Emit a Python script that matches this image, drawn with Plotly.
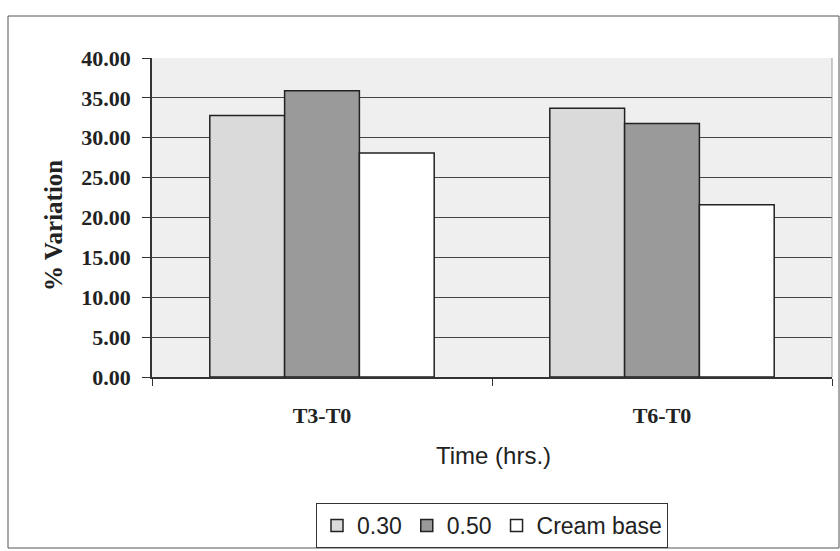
import plotly.graph_objects as go

# Percent variation of each formulation between sampling times
categories = ["T3-T0", "T6-T0"]
series_names = ["0.30", "0.50", "Cream base"]
values_030 = [32.8, 33.7]
values_050 = [35.9, 31.8]
values_cream = [28.1, 21.6]
y_ticks = [0, 5, 10, 15, 20, 25, 30, 35, 40]
y_tick_text = ["0.00", "5.00", "10.00", "15.00", "20.00", "25.00", "30.00", "35.00", "40.00"]

fills = ["#dadada", "#9a9a9a", "#ffffff"]

fig = go.Figure()
for name, vals, col in zip(series_names, [values_030, values_050, values_cream], fills):
    fig.add_trace(go.Bar(
        x=categories, y=vals, name=name,
        marker=dict(color=col, line=dict(color="#222222", width=1.5)),
    ))

# plot area in pixels: x 152..832, y 58..377
L, R, T, B = 152, 832, 58, 377
def px(xp):
    return (xp - L) / (R - L)
def py(yp):
    return (B - yp) / (B - T)

serif = "Liberation Serif"
sans = "Liberation Sans"

fig.update_layout(
    width=840, height=551,
    margin=dict(l=L, r=840 - R, t=T, b=551 - B, autoexpand=False),
    paper_bgcolor="white",
    plot_bgcolor="#efefef",
    barmode="group",
    bargap=0.34,
    bargroupgap=0,
    showlegend=True,
    legend=dict(
        orientation="h",
        x=0.5, xanchor="center",
        y=py(503), yanchor="top",
        bordercolor="#333333", borderwidth=1,
        bgcolor="white",
        font=dict(family=sans, size=23, color="#222222"),
        itemwidth=30,
        tracegroupgap=0,
    ),
    xaxis=dict(
        showgrid=False,
        showline=True, linecolor="#333333", linewidth=1.5,
        ticks="outside", tickson="boundaries", ticklen=7, tickcolor="#333333",
        tickfont=dict(family=serif, size=22, color="#222222", weight="bold"),
        ticklabelstandoff=18,
    ),
    yaxis=dict(
        range=[0, 40],
        tickvals=y_ticks, ticktext=y_tick_text,
        showgrid=True, gridcolor="#444444", gridwidth=1.2,
        showline=True, linecolor="#333333", linewidth=1.5,
        ticks="outside", ticklen=8, tickcolor="#333333",
        tickfont=dict(family=serif, size=22, color="#222222", weight="bold"),
        ticklabelstandoff=7,
        zeroline=False,
    ),
    annotations=[
        dict(text="% Variation", xref="paper", yref="paper",
             x=px(53), y=py(226), textangle=-90, showarrow=False,
             xanchor="center", yanchor="middle",
             font=dict(family=serif, size=25, color="#222222", weight="bold")),
        dict(text="Time (hrs.)", xref="paper", yref="paper",
             x=px(493), y=py(455), showarrow=False,
             xanchor="center", yanchor="middle",
             font=dict(family=sans, size=24, color="#222222")),
    ],
    shapes=[
        dict(type="rect", xref="paper", yref="paper",
             x0=px(8), x1=px(839), y0=py(16), y1=py(548),
             line=dict(color="#555555", width=1), layer="below"),
        dict(type="line", xref="paper", yref="paper",
             x0=1, x1=1, y0=0, y1=1,
             line=dict(color="#999999", width=1)),
    ],
)

fig.write_html("out.html")
